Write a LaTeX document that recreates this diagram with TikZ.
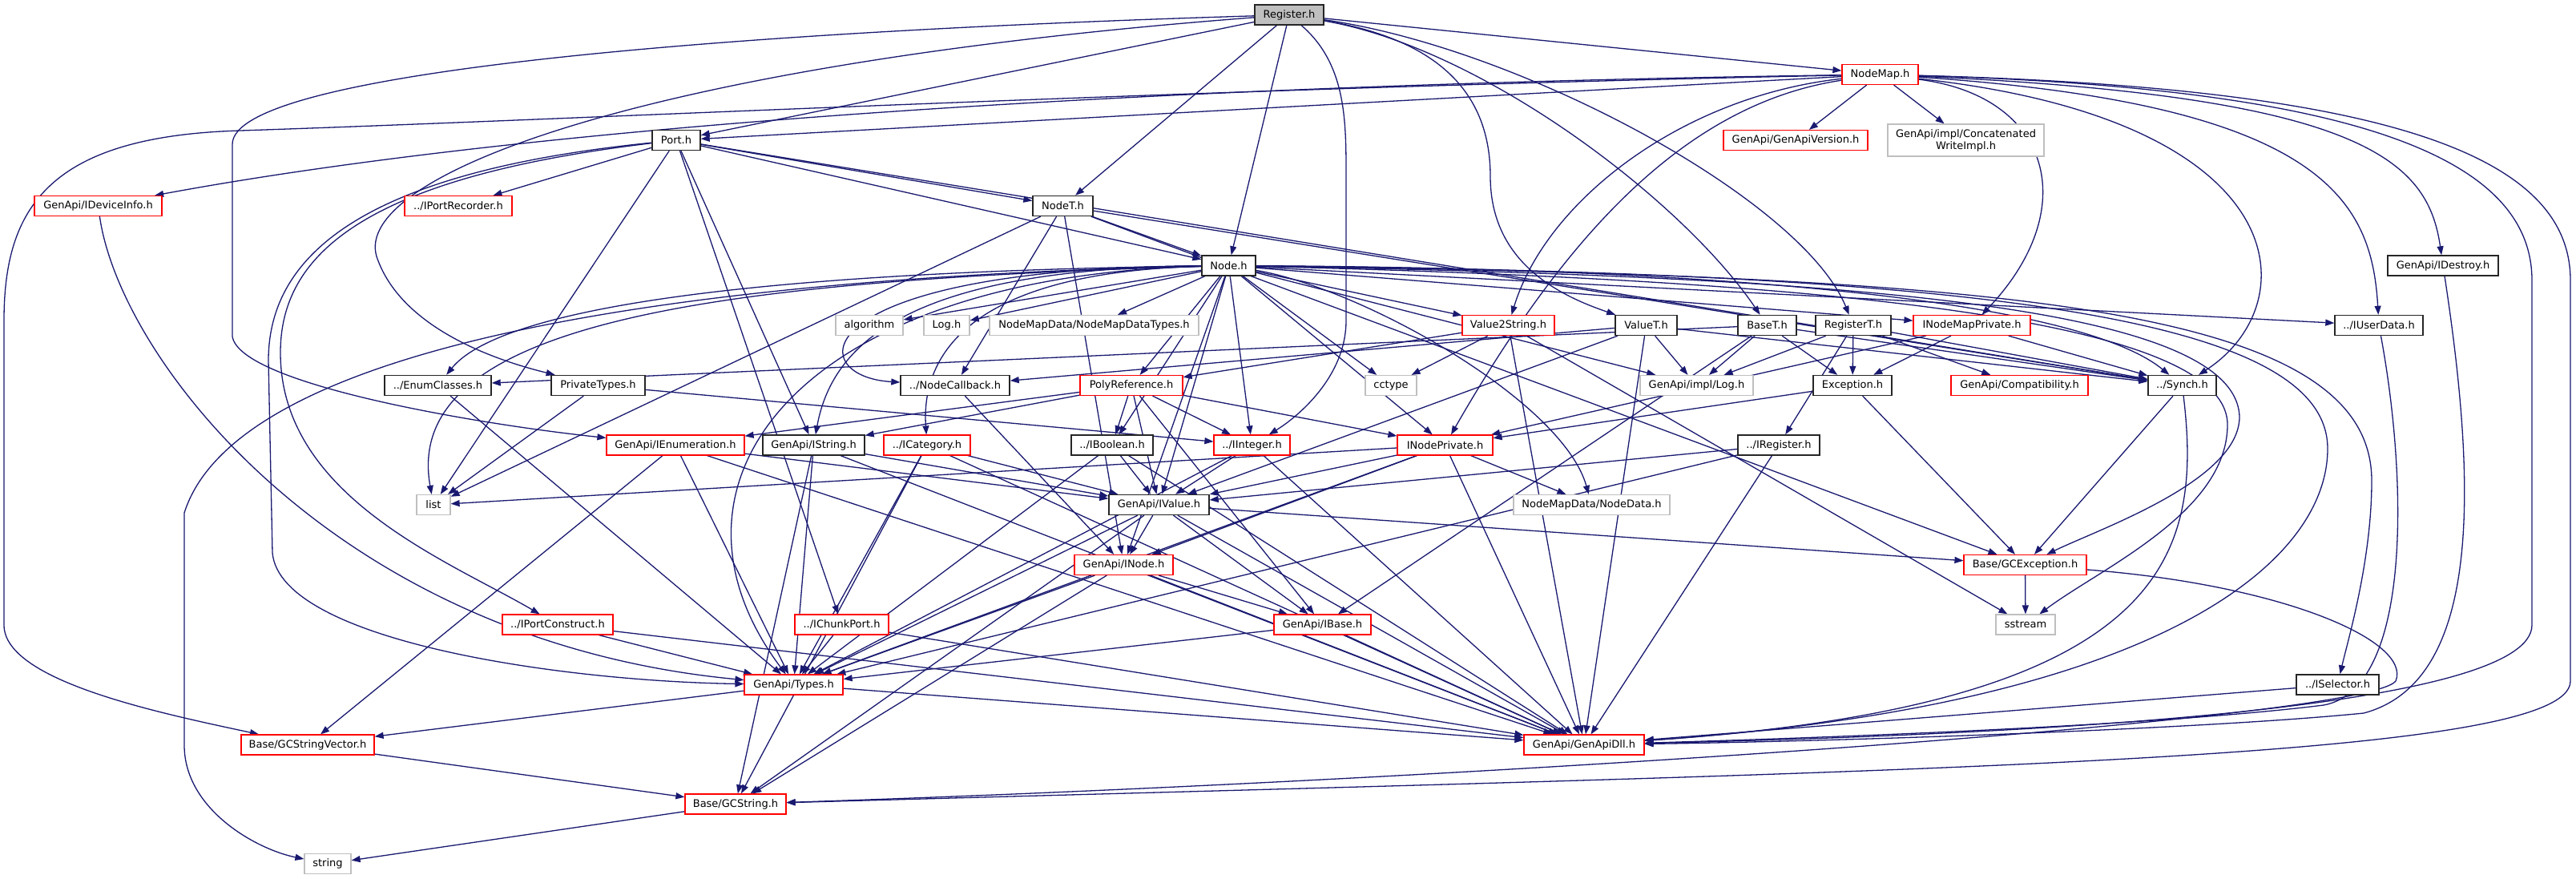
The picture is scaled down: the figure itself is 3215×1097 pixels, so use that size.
\documentclass[tikz,border=0pt]{standalone}
\usepackage{fontspec}
\setmainfont{DejaVu Sans}
\usetikzlibrary{arrows.meta}
\definecolor{edgec}{HTML}{191970}
\definecolor{grayb}{HTML}{BFBFBF}
\definecolor{rootf}{HTML}{BFBFBF}
\pgfdeclarelayer{bg}
\pgfsetlayers{bg,main}
\newcommand\nf{\fontsize{13pt}{15pt}\selectfont}
\begin{document}
\begin{tikzpicture}[x=1pt,y=-1pt,
  base/.style={rectangle, fill=white, minimum height=25pt, inner xsep=3pt, inner ysep=0pt, font=\nf},
  nb/.style={base, draw=black!85, line width=1.4pt},
  nr/.style={base, draw=red, line width=1.2pt},
  ng/.style={base, draw=grayb, line width=1.2pt},
  root/.style={nb, fill=rootf},
  edge/.style={draw=edgec, line width=1.3pt, -{Triangle[length=11pt,width=8pt]}}]
\useasboundingbox (0,0) rectangle (3215,1097);
% row 0-4
\node[root, minimum width=86pt] (R) at (1609,18.5) {Register.h};
\node[nr, minimum width=95pt] (NM) at (2346.5,93) {NodeMap.h};
\node[nb, minimum width=60pt] (P) at (844,175) {Port.h};
\node[nr, minimum width=180pt] (GAV) at (2241,175) {GenApi/GenApiVersion.h};
\node[ng, minimum width=195pt, minimum height=40pt, align=center] (CWI) at (2453.5,175) {GenApi/impl/Concatenated\\WriteImpl.h};
\node[nr, minimum width=159pt] (IDev) at (122.5,257) {GenApi/IDeviceInfo.h};
\node[nr, minimum width=134pt] (IPR) at (572,257) {../IPortRecorder.h};
\node[nb, minimum width=75pt] (NT) at (1326.5,257) {NodeT.h};
\node[nb, minimum width=67pt] (N) at (1533.5,331.5) {Node.h};
\node[nb, minimum width=138pt] (IDes) at (3049,331.5) {GenApi/IDestroy.h};
% row 5
\node[ng, minimum width=84pt] (Alg) at (1085,406) {algorithm};
\node[ng, minimum width=57pt] (LogH) at (1181.5,406) {Log.h};
\node[ng, minimum width=261pt] (NMDT) at (1365.5,406) {NodeMapData/NodeMapDataTypes.h};
\node[nr, minimum width=115pt] (VS) at (1882.5,406) {Value2String.h};
\node[nb, minimum width=77pt] (VT) at (2054.5,406) {ValueT.h};
\node[nb, minimum width=73pt] (BT) at (2205.5,406) {BaseT.h};
\node[nb, minimum width=94pt] (RT) at (2313,406) {RegisterT.h};
\node[nr, minimum width=146pt] (INMP) at (2461,406) {INodeMapPrivate.h};
\node[nb, minimum width=110pt] (IUD) at (2969,406) {../IUserData.h};
% row 6
\node[nb, minimum width=133pt] (Enum) at (546.5,481) {../EnumClasses.h};
\node[nb, minimum width=117pt] (PT) at (746.5,481) {PrivateTypes.h};
\node[nb, minimum width=136pt] (NCB) at (1192,481) {../NodeCallback.h};
\node[nr, minimum width=128pt] (Poly) at (1412,481) {PolyReference.h};
\node[ng, minimum width=64pt] (cct) at (1736,481) {cctype};
\node[ng, minimum width=141pt] (ILog) at (2117.5,481) {GenApi/impl/Log.h};
\node[nb, minimum width=98pt] (Exc) at (2312,481) {Exception.h};
\node[nr, minimum width=171pt] (Comp) at (2520.5,481) {GenApi/Compatibility.h};
\node[nb, minimum width=85pt] (Syn) at (2723.5,481) {../Synch.h};
% row 7
\node[nr, minimum width=172pt] (IEn) at (843,555.5) {GenApi/IEnumeration.h};
\node[nb, minimum width=127pt] (ISt) at (1015.5,555.5) {GenApi/IString.h};
\node[nr, minimum width=108pt] (ICa) at (1157,555.5) {../ICategory.h};
\node[nb, minimum width=102pt] (IBo) at (1388,555.5) {../IBoolean.h};
\node[nr, minimum width=95pt] (IIn) at (1562.5,555.5) {../IInteger.h};
\node[nr, minimum width=119pt] (INP) at (1803.5,555.5) {INodePrivate.h};
\node[nb, minimum width=102pt] (IRe) at (2220,555.5) {../IRegister.h};
% row 8
\node[ng, minimum width=42pt] (lst) at (541,630) {list};
\node[nb, minimum width=125pt] (IVa) at (1446.5,630) {GenApi/IValue.h};
\node[ng, minimum width=195pt] (NDa) at (1986.5,630) {NodeMapData/NodeData.h};
% row 9
\node[nr, minimum width=123pt] (INo) at (1402.5,705) {GenApi/INode.h};
\node[nr, minimum width=153pt] (GCE) at (2527.5,705) {Base/GCException.h};
% row 10
\node[nr, minimum width=138pt] (IPC) at (696,779.5) {../IPortConstruct.h};
\node[nr, minimum width=117pt] (ICP) at (1050.5,779.5) {../IChunkPort.h};
\node[nr, minimum width=121pt] (IBa) at (1650.5,779.5) {GenApi/IBase.h};
\node[ng, minimum width=74pt] (sst) at (2528,779.5) {sstream};
% row 11-14
\node[nr, minimum width=123pt] (Typ) at (990.5,854.5) {GenApi/Types.h};
\node[nb, minimum width=103pt] (ISe) at (2917.5,854.5) {../ISelector.h};
\node[nr, minimum width=166pt] (GSV) at (384,929.5) {Base/GCStringVector.h};
\node[nr, minimum width=150pt] (Dll) at (1977,929.5) {GenApi/GenApiDll.h};
\node[nr, minimum width=126pt] (GCS) at (918,1003.5) {Base/GCString.h};
\node[ng, minimum width=58pt] (str) at (409,1078) {string};

\begin{pgfonlayer}{bg}
\foreach \a/\b in {R/NM, R/P, R/NT, R/N,
  NM/P, NM/GAV, NM/CWI,
  P/IPR, P/NT, P/N, P/ICP, P/ISt, P/lst, P/Syn,
  NT/N, NT/lst, NT/INo, NT/NCB, NT/Syn, NT/GCE,
  N/Alg, N/LogH, N/NMDT, N/VS, N/Poly, N/cct, N/IBo, N/IIn, N/INP, N/INMP, N/INo, N/ILog, N/IUD, N/IVa,
  PT/lst, PT/IIn, Enum/Typ, NCB/INo,
  Poly/IEn, Poly/ISt, Poly/IIn, Poly/IBo, Poly/IVa, Poly/INP, Poly/IBa,
  VS/cct, VS/Poly, VS/sst, VS/Dll,
  VT/ILog, VT/Syn, VT/IVa, VT/NCB, VT/Dll,
  BT/ILog, BT/Exc, BT/Syn, BT/IBa, BT/Enum,
  RT/ILog, RT/Exc, RT/IRe, RT/Comp, RT/Syn,
  INMP/Exc, INMP/INP, INMP/Syn,
  Exc/INP, Exc/GCE,
  IEn/IVa, IEn/Typ, IEn/Dll, IEn/GSV,
  ISt/IVa, ISt/Typ, ISt/Dll, ISt/GCS,
  ICa/IVa, ICa/Typ, ICa/Dll, ICa/GCS,
  IBo/IVa, IBo/Typ, IBo/Dll,
  IIn/IVa, IIn/Typ, IIn/Dll,
  INP/IVa, INP/INo, INP/Typ, INP/NDa, INP/Dll, INP/lst,
  IRe/IVa, IRe/Typ, IRe/Dll,
  IVa/INo, IVa/IBa, IVa/Typ, IVa/Dll, IVa/GCE, IVa/GCS,
  INo/IBa, INo/Typ, INo/Dll, INo/GCS,
  IPC/Typ, IPC/Dll, ICP/Typ, ICP/Dll, IBa/Typ, IBa/Dll,
  Typ/GSV, Typ/Dll, GSV/GCS, GCS/str, GCE/sst, Syn/GCE, ISe/Dll}
  \draw[edge] (\a) -- (\b);
% curved connectors
\draw[edge] (R) .. controls (900,40) and (290,90) .. (290,180) -- (290,420) .. controls (300,480) and (600,530) .. (IEn);
\draw[edge] (R) .. controls (800,80) and (440,220) .. (470,320) .. controls (500,410) and (620,450) .. (PT);
\draw[edge] (R) .. controls (1680,80) and (1680,150) .. (1680,220) -- (1680,400) .. controls (1680,470) and (1620,520) .. (IIn);
\draw[edge] (R) .. controls (1800,50) and (1860,120) .. (1860,220) .. controls (1860,330) and (1950,370) .. (VT);
\draw[edge] (R) .. controls (1850,60) and (2100,250) .. (BT);
\draw[edge] (R) .. controls (1900,60) and (2250,250) .. (RT);
\draw[edge] (NM) .. controls (1500,105) and (700,150) .. (IDev);
\draw[edge] (NM) .. controls (1500,110) and (700,150) .. (300,163) .. controls (60,170) and (5,260) .. (5,400) -- (5,780) .. controls (5,850) and (200,890) .. (GSV);
\draw[edge] (NM) .. controls (2100,120) and (1930,250) .. (VS);
\draw[edge] (NM) .. controls (2100,130) and (1950,300) .. (INP);
\draw[edge] (NM) .. controls (2560,120) and (2600,260) .. (INMP);
\draw[edge] (NM) .. controls (2870,150) and (2880,380) .. (Syn);
\draw[edge] (NM) .. controls (2900,130) and (2960,250) .. (IUD);
\draw[edge] (NM) .. controls (2950,120) and (3030,200) .. (IDes);
\draw[edge] (NM) .. controls (2950,110) and (3160,200) .. (3160,350) -- (3160,780) .. controls (3160,880) and (2600,915) .. (Dll);
\draw[edge] (NM) .. controls (3000,110) and (3208,200) .. (3208,350) -- (3208,850) .. controls (3208,950) and (2400,962) .. (GCS);
\draw[edge] (N) .. controls (900,345) and (300,420) .. (230,640) -- (230,930) .. controls (230,1010) and (320,1060) .. (str);
\draw[edge] (N) .. controls (900,340) and (620,390) .. (Enum);
\draw[edge] (N) .. controls (900,350) and (500,400) .. (lst);
\draw[edge] (N) .. controls (1150,335) and (1040,420) .. (ISt);
\draw[edge] (N) .. controls (1200,340) and (1150,450) .. (ICa);
\draw[edge] (N) .. controls (1000,335) and (1000,470) .. (NCB);
\draw[edge] (N) .. controls (1000,345) and (800,600) .. (Typ);
\draw[edge] (N) .. controls (2200,335) and (2600,380) .. (Syn);
\draw[edge] (N) .. controls (2300,345) and (2790,380) .. (2795,520) .. controls (2795,600) and (2620,660) .. (GCE);
\draw[edge] (N) .. controls (2300,350) and (2780,400) .. (2780,530) .. controls (2780,640) and (2620,710) .. (sst);
\draw[edge] (N) .. controls (2500,345) and (2960,380) .. (2960,600) .. controls (2960,700) and (2930,800) .. (ISe);
\draw[edge] (N) .. controls (2500,340) and (2905,400) .. (2905,560) .. controls (2905,700) and (2700,880) .. (Dll);
\draw[edge] (N) .. controls (1700,360) and (1950,500) .. (NDa);
\draw[edge] (IDev) .. controls (150,450) and (420,800) .. (Typ);
\draw[edge] (P) .. controls (450,215) and (335,320) .. (335,450) -- (340,690) .. controls (350,800) and (700,850) .. (Typ);
\draw[edge] (P) .. controls (450,222) and (350,320) .. (350,440) .. controls (350,620) and (560,700) .. (IPC);
\draw[edge] (GCE) .. controls (2850,730) and (3010,800) .. (2990,850) .. controls (2950,900) and (1800,975) .. (GCS);
\draw[edge] (Syn) .. controls (2750,700) and (2700,880) .. (Dll);
\draw[edge] (IUD) .. controls (3005,600) and (3010,860) .. (2900,880) .. controls (2700,905) and (2300,920) .. (Dll);
\draw[edge] (IDes) .. controls (3090,600) and (3100,850) .. (2950,890) .. controls (2750,910) and (2300,925) .. (Dll);
\end{pgfonlayer}
\end{tikzpicture}
\end{document}
